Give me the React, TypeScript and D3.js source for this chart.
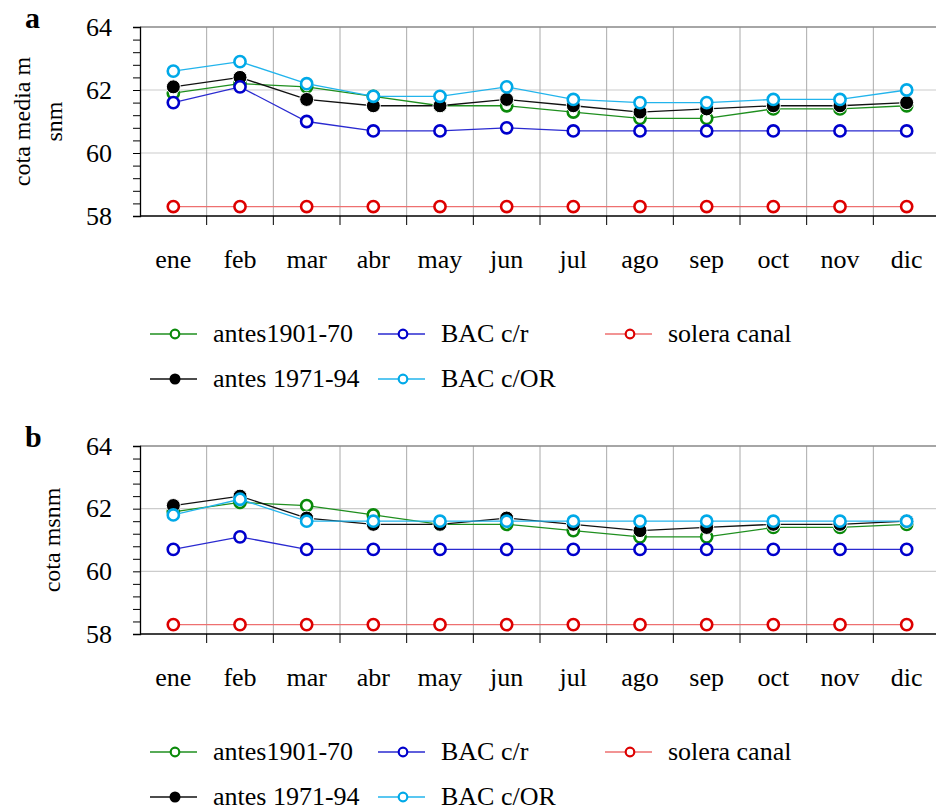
import React, { useEffect, useRef } from "react";
import * as d3 from "d3";

const months = ["ene", "feb", "mar", "abr", "may", "jun", "jul", "ago", "sep", "oct", "nov", "dic"];
const yTicks = [58, 60, 62, 64];

const aAntes1901 = [61.9, 62.2, 62.1, 61.8, 61.5, 61.5, 61.3, 61.1, 61.1, 61.4, 61.4, 61.5];
const aAntes1971 = [62.1, 62.4, 61.7, 61.5, 61.5, 61.7, 61.5, 61.3, 61.4, 61.5, 61.5, 61.6];
const aBACcr = [61.6, 62.1, 61.0, 60.7, 60.7, 60.8, 60.7, 60.7, 60.7, 60.7, 60.7, 60.7];
const aBACcOR = [62.6, 62.9, 62.2, 61.8, 61.8, 62.1, 61.7, 61.6, 61.6, 61.7, 61.7, 62.0];
const aSolera = [58.3, 58.3, 58.3, 58.3, 58.3, 58.3, 58.3, 58.3, 58.3, 58.3, 58.3, 58.3];

const bAntes1901 = [61.9, 62.2, 62.1, 61.8, 61.5, 61.5, 61.3, 61.1, 61.1, 61.4, 61.4, 61.5];
const bAntes1971 = [62.1, 62.4, 61.7, 61.5, 61.5, 61.7, 61.5, 61.3, 61.4, 61.5, 61.5, 61.6];
const bBACcr = [60.7, 61.1, 60.7, 60.7, 60.7, 60.7, 60.7, 60.7, 60.7, 60.7, 60.7, 60.7];
const bBACcOR = [61.8, 62.3, 61.6, 61.6, 61.6, 61.6, 61.6, 61.6, 61.6, 61.6, 61.6, 61.6];
const bSolera = [58.3, 58.3, 58.3, 58.3, 58.3, 58.3, 58.3, 58.3, 58.3, 58.3, 58.3, 58.3];

const seriesNames = ["antes1901-70", "antes 1971-94", "BAC c/r", "BAC c/OR", "solera canal"];

type Style = { line: string; marker: string; filled: boolean };
const styles: Style[] = [
  { line: "#1f8f1f", marker: "#0a8a0a", filled: false },
  { line: "#111111", marker: "#000000", filled: true },
  { line: "#2a2ad0", marker: "#0000cc", filled: false },
  { line: "#22b4ec", marker: "#00a9e8", filled: false },
  { line: "#ee7070", marker: "#dd0000", filled: false },
];

const FONT = "'Liberation Serif', 'Times New Roman', serif";

export default function App() {
  const ref = useRef<SVGSVGElement>(null);

  useEffect(() => {
    const svg = d3.select(ref.current);
    svg.selectAll("*").remove();

    const panels = [
      { letter: "a", top: 27, bottom: 216, data: [aAntes1901, aAntes1971, aBACcr, aBACcOR, aSolera], title: ["cota media m", "snm"] },
      { letter: "b", top: 446, bottom: 634, data: [bAntes1901, bAntes1971, bBACcr, bBACcOR, bSolera], title: ["cota msnm"] },
    ];

    const x = d3.scaleBand<string>().domain(months).range([140, 940]).padding(0);
    const cx = (m: string) => (x(m) as number) + x.bandwidth() / 2;

    panels.forEach((p) => {
      const g = svg.append("g");
      const y = d3.scaleLinear().domain([58, 64]).range([p.bottom, p.top]);

      // horizontal grid
      [60, 62].forEach((v) => {
        g.append("line").attr("x1", 140).attr("x2", 940).attr("y1", y(v)).attr("y2", y(v))
          .attr("stroke", "#cccccc").attr("stroke-width", 1.2);
      });
      // vertical grid
      months.slice(1).forEach((m) => {
        g.append("line").attr("x1", x(m) as number).attr("x2", x(m) as number)
          .attr("y1", p.top).attr("y2", p.bottom).attr("stroke", "#aaaaaa").attr("stroke-width", 1);
      });
      // top border
      g.append("line").attr("x1", 140).attr("x2", 940).attr("y1", p.top).attr("y2", p.top)
        .attr("stroke", "#888888").attr("stroke-width", 1.5);

      // y axis
      const yAxis = d3.axisLeft(y).tickValues(d3.range(58, 64.01, 0.4)).tickSize(7).tickFormat(() => "");
      const ya = g.append("g").attr("transform", "translate(140,0)").call(yAxis);
      ya.select(".domain").attr("stroke", "#000").attr("stroke-width", 1.3);
      ya.selectAll(".tick line").attr("stroke", "#000").attr("stroke-width", 1);
      yTicks.forEach((v) => {
        g.append("text").attr("x", 112).attr("y", y(v)).attr("dy", "0.33em")
          .attr("text-anchor", "end").attr("font-family", FONT).attr("font-size", 26).text(String(v));
      });

      // x axis
      const xAxis = d3.axisBottom(x).tickValues(months.slice(1)).tickSize(9).tickFormat(() => "");
      const xa = g.append("g").attr("transform", `translate(0,${p.bottom})`).call(xAxis);
      xa.selectAll(".tick").attr("transform", (d: any) => `translate(${x(d) as number},0)`);
      xa.select(".domain").remove();
      g.append("line").attr("x1", 140).attr("x2", 940).attr("y1", p.bottom).attr("y2", p.bottom)
        .attr("stroke", "#000").attr("stroke-width", 1.3);
      xa.selectAll(".tick line").attr("stroke", "#000").attr("stroke-width", 1);
      months.forEach((m) => {
        g.append("text").attr("x", cx(m)).attr("y", p.bottom + 52).attr("text-anchor", "middle")
          .attr("font-family", FONT).attr("font-size", 26).text(m);
      });

      // series
      p.data.forEach((vals, i) => {
        const st = styles[i];
        const line = d3.line<number>().x((_, k) => cx(months[k])).y((v) => y(v));
        g.append("path").attr("d", line(vals) as string).attr("fill", "none")
          .attr("stroke", st.line).attr("stroke-width", 1.3);
        vals.forEach((v, k) => {
          if (st.filled) {
            g.append("circle").attr("cx", cx(months[k])).attr("cy", y(v)).attr("r", 7)
              .attr("fill", "#000").attr("stroke", "#fff").attr("stroke-width", 1);
          } else {
            g.append("circle").attr("cx", cx(months[k])).attr("cy", y(v)).attr("r", 5.6)
              .attr("fill", "#fff").attr("stroke", st.marker).attr("stroke-width", 2.6);
          }
        });
      });

      // panel letter
      g.append("text").attr("x", 25).attr("y", p.top + 1).attr("font-family", FONT)
        .attr("font-size", 30).attr("font-weight", "bold").text(p.letter);

      // y title
      const midY = (p.top + p.bottom) / 2;
      if (p.title.length === 2) {
        [p.title[0], p.title[1]].forEach((t, k) => {
          const tx = k === 0 ? 30 : 62;
          g.append("text").attr("transform", `translate(${tx},${midY}) rotate(-90)`)
            .attr("text-anchor", "middle").attr("font-family", FONT).attr("font-size", 24).text(t);
        });
      } else {
        g.append("text").attr("transform", `translate(60,${midY}) rotate(-90)`)
          .attr("text-anchor", "middle").attr("font-family", FONT).attr("font-size", 24).text(p.title[0]);
      }

      // legend
      const legendItems = [
        { i: 0, lx: 150, row: 0 },
        { i: 2, lx: 378, row: 0 },
        { i: 4, lx: 605, row: 0 },
        { i: 1, lx: 150, row: 1 },
        { i: 3, lx: 378, row: 1 },
      ];
      legendItems.forEach((it) => {
        const st = styles[it.i];
        const ly = p.bottom + 118 + it.row * 45;
        g.append("line").attr("x1", it.lx).attr("x2", it.lx + 47).attr("y1", ly).attr("y2", ly)
          .attr("stroke", st.line).attr("stroke-width", 1.3);
        if (st.filled) {
          g.append("circle").attr("cx", it.lx + 25).attr("cy", ly).attr("r", 5.5).attr("fill", "#000");
        } else {
          g.append("circle").attr("cx", it.lx + 25).attr("cy", ly).attr("r", 4.3)
            .attr("fill", "#fff").attr("stroke", st.marker).attr("stroke-width", 2.2);
        }
        g.append("text").attr("x", it.lx + 63).attr("y", ly + 8).attr("font-family", FONT)
          .attr("font-size", 26).text(seriesNames[it.i]);
      });
    });
  }, []);

  return (
    <svg ref={ref} width={936} height={812}
      style={{ position: "absolute", left: 0, top: 0, display: "block", background: "#fff" }} />
  );
}
